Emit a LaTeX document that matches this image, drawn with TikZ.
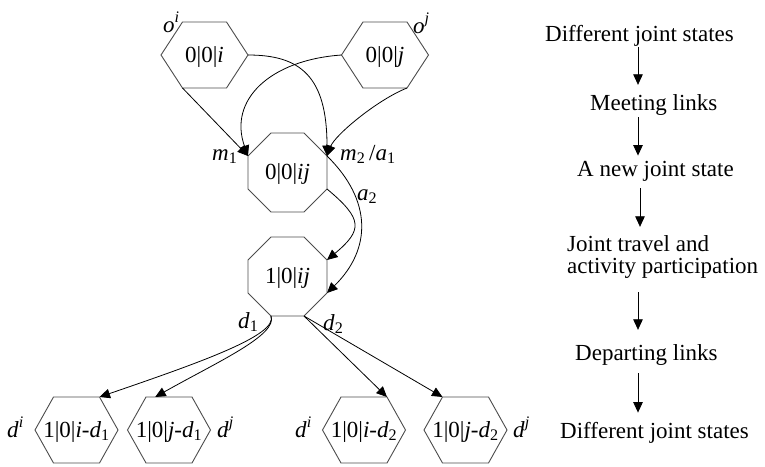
\documentclass[tikz,border=0pt]{standalone}
\usepackage{fontspec}
\setmainfont{Liberation Serif}
\usetikzlibrary{arrows.meta,calc}
% hexagon: name, cx, cy, half-width, half top edge, half-height
\newcommand\myhex[6]{%
  \coordinate (#1-l) at ({#2-#4},#3);
  \coordinate (#1-tl) at ({#2-#5},{#3-#6});
  \coordinate (#1-tr) at ({#2+#5},{#3-#6});
  \coordinate (#1-r) at ({#2+#4},#3);
  \coordinate (#1-br) at ({#2+#5},{#3+#6});
  \coordinate (#1-bl) at ({#2-#5},{#3+#6});
  \draw[shp] (#1-l) -- (#1-tl) -- (#1-tr) -- (#1-r) -- (#1-br) -- (#1-bl) -- cycle;
}
% octagon: name, cx, cy, half-size, half edge
\newcommand\myoct[5]{%
  \coordinate (#1-tl) at ({#2-#5},{#3-#4});
  \coordinate (#1-tr) at ({#2+#5},{#3-#4});
  \coordinate (#1-rt) at ({#2+#4},{#3-#5});
  \coordinate (#1-rb) at ({#2+#4},{#3+#5});
  \coordinate (#1-br) at ({#2+#5},{#3+#4});
  \coordinate (#1-bl) at ({#2-#5},{#3+#4});
  \coordinate (#1-lb) at ({#2-#4},{#3+#5});
  \coordinate (#1-lt) at ({#2-#4},{#3-#5});
  \draw[shp] (#1-tl) -- (#1-tr) -- (#1-rt) -- (#1-rb) -- (#1-br) -- (#1-bl) -- (#1-lb) -- (#1-lt) -- cycle;
}
\begin{document}
\begin{tikzpicture}[x=1pt,y=-1pt,
  shp/.style={draw=black!70, line width=0.9pt},
  lbl/.style={inner sep=0pt, font=\fontsize{23}{22}\selectfont},
  arr/.style={draw=black, line width=0.8pt, -{Triangle[length=10.5pt,width=9.5pt]}}]
\useasboundingbox (0,0) rectangle (765,466);

% shapes
\myhex{hi}{204.5}{55}{43.5}{22}{33}
\myhex{hj}{385}{55}{43.5}{22}{33}
\myoct{oa}{287.5}{172.5}{39.5}{16.5}
\myoct{ob}{287.5}{276.5}{39.5}{16.5}
\myhex{ha}{76.5}{430}{41.5}{23}{33}
\myhex{hb}{169}{430}{41.5}{23}{33}
\myhex{hc}{364}{430}{41.5}{23}{33}
\myhex{hd}{465.5}{430}{41.5}{23}{33}

% texts inside shapes
\node[lbl, anchor=base] (thi) at (204.5,62.5) {0|0|\textit{i}};
\node[lbl, anchor=base] (thj) at (385,62.5) {0|0|\textit{j}};
\node[lbl, anchor=base] (toa) at (287.5,179.5) {0|0|\textit{ij}};
\node[lbl, anchor=base] (tob) at (287.5,283.5) {1|0|\textit{ij}};
\node[lbl, anchor=base] (tha) at (76.5,437) {1|0|\textit{i}-\textit{d}\textsubscript{1}};
\node[lbl, anchor=base] (thb) at (169,437) {1|0|\textit{j}-\textit{d}\textsubscript{1}};
\node[lbl, anchor=base] (thc) at (364,437) {1|0|\textit{i}-\textit{d}\textsubscript{2}};
\node[lbl, anchor=base] (thd) at (465.5,437) {1|0|\textit{j}-\textit{d}\textsubscript{2}};

% labels
\node[lbl, anchor=base west] (loi) at (163,32) {\textit{o}\textsuperscript{\textit{i}}};
\node[lbl, anchor=base west] (loj) at (413,33) {\textit{o}\textsuperscript{\textit{j}}};
\node[lbl, anchor=base west] (lm1) at (212,160) {\textit{m}\textsubscript{1}};
\node[lbl, anchor=base west] (lm2) at (340,160) {\textit{m}\textsubscript{2}\,/\textit{a}\textsubscript{1}};
\node[lbl, anchor=base west] (la2) at (357,200) {\textit{a}\textsubscript{2}};
\node[lbl, anchor=base west] (ld1) at (238,328) {\textit{d}\textsubscript{1}};
\node[lbl, anchor=base west] (ld2) at (323,330) {\textit{d}\textsubscript{2}};
\node[lbl, anchor=base west] (ldi1) at (7,437) {\textit{d}\textsuperscript{\textit{i}}};
\node[lbl, anchor=base west] (ldj1) at (217,437) {\textit{d}\textsuperscript{\textit{j}}};
\node[lbl, anchor=base west] (ldi2) at (295,437) {\textit{d}\textsuperscript{\textit{i}}};
\node[lbl, anchor=base west] (ldj2) at (513,437) {\textit{d}\textsuperscript{\textit{j}}};

% connectors
\draw[arr] (hi-bl) -- (oa-lt);
\draw[arr] (hi-r) .. controls +(52,0) and +(0,-80) .. (oa-rt);
\draw[arr] (hj-l) .. controls (270,60) and (228,100) .. (oa-lt);
\draw[arr] (hj-br) .. controls +(-30,12) and +(8,-21) .. (oa-rt);
\draw[arr] (oa-rt) .. controls +(45,44) and +(45,-44) .. (ob-rb);
\draw[arr] (oa-rb) .. controls +(36,30) and +(36,-30) .. (ob-rt);
\draw[arr] (ob-bl) .. controls +(7,19) and +(102,-35) .. (ha-tr);
\draw[arr] (ob-bl) .. controls +(7,19) and +(62,-35) .. ($(hb-tl)!0.2!(hb-tr)$);
\draw[arr] (ob-br) -- (hc-tr);
\draw[arr] (ob-br) -- (hd-tl);

% right column
\node[lbl, anchor=base west] (t1) at (545,41) {Different joint states};
\node[lbl, anchor=base west] (t2) at (590,110) {Meeting links};
\node[lbl, anchor=base west] (t3) at (577,176) {A new joint state};
\node[lbl, anchor=base west] (t4a) at (567,251) {Joint travel and};
\node[lbl, anchor=base west] (t4b) at (567,273) {activity participation};
\node[lbl, anchor=base west] (t5) at (575,360) {Departing links};
\node[lbl, anchor=base west] (t6) at (560,438) {Different joint states};
\coordinate (ax) at (638,0);
\coordinate (bx) at (640,0);
\draw[arr, shorten <=1pt, shorten >=9pt] (t1.south -| ax) -- (t2.north -| ax);
\draw[arr, shorten <=2pt, shorten >=5pt] (t2.south -| ax) -- (t3.north -| ax);
\draw[arr, shorten <=7pt, shorten >=8pt] (t3.south -| bx) -- (t4a.north -| bx);
\draw[arr, shorten <=14pt, shorten >=14pt] (t4b.south -| ax) -- (t5.north -| ax);
\draw[arr, shorten <=8pt, shorten >=9pt] (t5.south -| ax) -- (t6.north -| ax);
\end{tikzpicture}
\end{document}
